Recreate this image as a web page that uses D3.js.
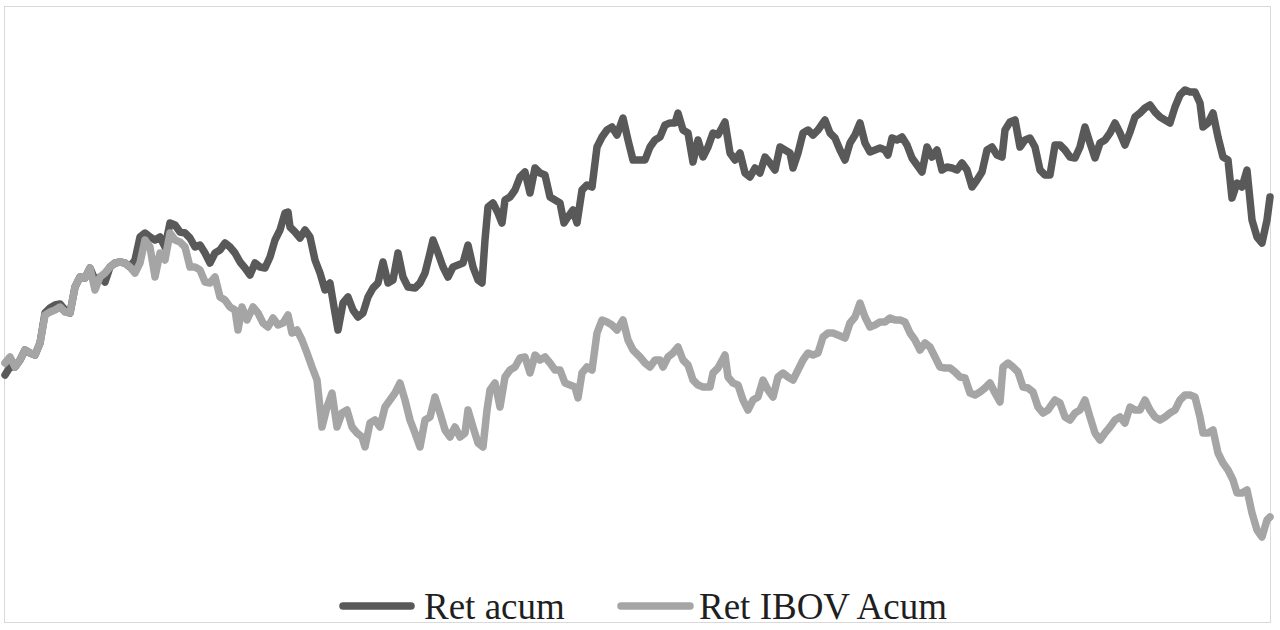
<!DOCTYPE html>
<html>
<head>
<meta charset="utf-8">
<script src="https://cdn.jsdelivr.net/npm/d3@7"></script>
<style>
  html, body { margin: 0; padding: 0; background: #ffffff; }
  svg { display: block; }
</style>
</head>
<body>
<svg id="chart" width="1280" height="630"></svg>
<script>
// Trading-day index and cumulative returns (%)
const retDays = [0,5,10,15,20,25,30,35,40,45,50,55,60,65,70,75,80,85,90,95,100,105,110,115,120,125,130,135,140,145,150,155,160,165,170,175,180,185,190,195,200,205,
210,215,220,225,230,235,240,245,250,255,260,265,270,275,280,283,285,290,295,300,305,310,315,320,325,330,333,338,343,348,353,358,363,368,373,378,383,388,393,398,403,410,415,
420,425,428,433,438,443,448,453,458,463,468,473,477,480,483,488,493,497,500,505,510,515,520,525,530,535,540,545,550,555,559,563,568,572,577,582,587,592,597,602,607,612,618,623,628,
635,640,645,650,655,660,665,670,673,678,683,688,693,698,703,708,713,720,725,730,735,740,745,750,755,760,765,770,775,780,785,788,793,798,803,808,813,820,825,830,835,
840,845,850,855,860,865,870,875,880,883,887,892,897,902,907,912,917,922,927,932,937,942,947,952,957,962,967,972,977,982,987,992,997,1000,1005,1010,1015,1020,1025,1030,1035,1040,1045,
1050,1055,1060,1065,1070,1075,1080,1085,1090,1095,1100,1105,1110,1115,1120,1125,1130,1135,1140,1145,1150,1155,1160,1165,1170,1175,1180,1185,1190,1195,1198,1203,1208,1213,1218,1223,1227,1232,1237,1242,1247,1252,1257,1262,1265];
const retAcum = [-0.3,0.5,0.5,1.2,2.2,1.9,1.7,2.9,5.9,6.4,6.7,6.8,6.2,5.9,8.5,9.5,9.4,10.4,9.2,9.5,9.0,10.5,10.9,11.0,10.9,10.5,11.2,13.5,13.9,13.5,13.2,13.5,12.5,14.9,14.7,14.0,13.9,13.4,12.5,12.7,11.9,10.9,
11.9,12.2,12.9,12.5,11.9,11.0,10.4,9.7,10.9,10.5,10.4,11.5,13.2,14.2,15.9,16.0,14.5,14.0,13.4,14.2,13.5,11.2,9.9,8.2,8.9,5.9,4.2,6.9,7.5,6.2,5.5,5.9,7.5,8.4,8.9,11.0,8.9,9.2,11.9,9.5,8.5,8.4,8.9,
9.9,11.9,13.2,11.9,10.5,9.5,10.5,10.7,10.9,12.7,10.5,9.2,8.9,13.2,16.5,16.9,15.9,14.9,17.2,17.5,18.2,19.5,20.0,17.9,20.4,19.9,19.7,17.5,17.2,16.9,14.9,15.5,16.2,14.9,18.2,18.7,18.5,22.5,23.5,24.2,24.5,23.7,25.4,23.2,21.2,
21.2,21.2,22.5,23.2,23.5,24.7,24.9,24.9,25.9,24.2,23.9,21.0,23.2,21.5,22.5,23.9,23.7,25.0,21.9,21.2,21.9,19.9,19.5,20.4,19.9,21.5,20.9,20.2,22.5,22.2,21.9,20.4,21.9,23.9,24.2,23.7,24.2,25.2,23.9,23.4,22.2,
21.2,22.9,23.7,24.9,22.9,22.0,22.2,22.4,22.2,21.7,23.4,23.2,23.5,22.7,21.4,20.7,20.0,22.5,21.5,22.2,20.2,20.5,20.4,20.2,20.9,20.2,18.5,19.2,20.0,22.2,22.5,21.7,21.5,24.2,25.0,25.2,22.5,23.2,23.4,22.5,20.2,19.7,19.7,
22.7,22.7,22.2,21.5,21.4,22.5,24.5,22.9,21.4,22.9,23.2,23.9,24.9,23.9,22.7,24.0,25.5,25.9,26.4,26.7,26.0,25.5,25.2,24.9,26.5,27.7,28.2,28.0,28.0,26.9,24.5,24.9,25.9,23.5,21.5,21.2,17.4,18.9,18.5,20.2,15.2,13.5,12.9,15.2,17.5];

const ibovDays = [0,5,10,15,20,25,30,35,40,45,50,55,60,65,70,75,80,85,90,95,100,105,110,115,120,125,130,135,140,145,150,155,160,165,170,175,180,185,190,195,200,205,
210,215,220,225,230,233,237,242,248,253,258,263,268,273,278,283,287,292,297,302,307,312,317,322,327,332,337,342,347,352,357,360,365,370,375,380,385,390,395,400,405,410,415,
420,425,430,435,440,445,450,455,460,463,468,473,478,482,485,490,495,500,505,510,515,520,525,530,535,540,545,550,555,560,565,570,573,577,582,587,592,597,602,607,612,618,623,628,
635,640,645,650,655,658,663,668,673,678,683,688,693,698,705,708,713,720,723,728,733,738,743,748,753,758,763,768,773,778,783,788,793,798,803,808,813,818,823,828,833,
840,845,850,855,860,865,870,875,880,885,890,895,900,905,910,915,920,925,930,935,940,945,950,955,960,965,970,975,980,985,990,995,998,1003,1008,1013,1018,1023,1028,1033,1038,1043,
1050,1055,1060,1065,1070,1075,1080,1085,1090,1095,1100,1105,1110,1115,1120,1125,1130,1135,1140,1145,1150,1155,1160,1165,1170,1175,1180,1185,1190,1195,1198,1203,1208,1213,1218,1223,1228,1232,1237,1242,1247,1252,1257,1262,1265];
const ibovAcum = [0.9,1.5,0.5,1.2,2.2,1.9,1.7,2.9,5.7,6.0,6.2,6.5,6.0,5.9,8.5,9.5,9.4,10.4,8.2,9.5,9.9,10.5,10.9,11.0,10.9,10.5,9.9,10.9,13.2,12.5,9.5,11.9,11.2,13.9,13.2,13.0,12.5,10.5,10.5,10.2,9.0,8.9,
9.5,7.5,7.2,6.5,6.2,4.2,6.5,5.2,6.5,5.9,4.9,4.5,5.4,4.7,4.9,5.7,3.9,4.2,3.2,1.9,0.5,-0.8,-5.5,-3.5,-2.1,-5.5,-4.1,-3.8,-5.5,-6.1,-6.5,-7.5,-5.1,-4.8,-5.5,-3.5,-2.8,-2.1,-1.1,-2.8,-4.8,-6.1,-7.5,
-4.8,-4.5,-2.5,-4.1,-5.8,-6.5,-5.5,-6.5,-6.1,-3.8,-5.5,-7.1,-7.5,-3.8,-1.8,-1.1,-3.5,-0.5,0.2,0.5,1.4,1.5,-0.1,1.7,1.2,1.5,0.9,0.2,0.2,-1.1,-1.3,-1.5,-2.6,-0.1,0.5,0.2,3.9,5.2,5.0,4.7,4.2,5.2,3.2,2.2,
1.5,0.9,0.5,1.2,1.2,0.5,1.5,1.9,2.5,1.2,0.7,-0.8,-1.3,-1.5,-1.5,-0.1,0.4,1.7,-0.5,-1.1,-1.3,-2.8,-3.8,-2.8,-2.5,-0.8,-1.8,-2.5,-0.5,-0.1,-0.5,-0.8,0.2,1.2,1.9,1.7,1.9,3.5,3.9,3.9,3.7,
3.4,4.9,5.5,6.9,5.5,4.5,4.7,5.0,5.0,5.4,5.2,5.2,5.0,3.9,3.2,2.2,2.9,2.5,1.5,0.5,0.4,0.4,0.0,-0.5,-0.6,-2.1,-2.3,-2.0,-1.6,-1.1,-2.1,-3.0,0.5,0.9,0.5,0.0,-1.5,-1.6,-2.0,-3.5,-4.1,-3.8,
-2.8,-3.1,-4.5,-4.8,-4.1,-3.8,-2.8,-4.5,-6.1,-6.8,-6.1,-5.5,-4.8,-4.5,-5.1,-3.5,-3.8,-3.8,-2.8,-3.8,-4.5,-4.8,-4.5,-4.1,-3.8,-2.8,-2.3,-2.3,-2.5,-4.5,-6.1,-6.1,-5.8,-8.1,-9.1,-9.8,-10.8,-12.1,-12.1,-11.8,-14.1,-15.8,-16.5,-14.8,-14.5];

const seriesNames = ["Ret acum", "Ret IBOV Acum"];
const seriesColors = ["#595959", "#a5a5a5"];

const svg = d3.select("#chart");

// chart border
svg.append("rect")
  .attr("x", 4.5).attr("y", 6.5)
  .attr("width", 1266).attr("height", 616)
  .attr("fill", "#ffffff")
  .attr("stroke", "#d9d9d9")
  .attr("stroke-width", 1);

const x = d3.scaleLinear().domain([0, 1265]).range([5, 1270]);
const y = d3.scaleLinear().domain([-25, 35]).range([622, 22]);

const line = d3.line()
  .x(d => x(d[0]))
  .y(d => y(d[1]));

const series = [
  d3.zip(retDays, retAcum),
  d3.zip(ibovDays, ibovAcum)
];

series.forEach((s, i) => {
  svg.append("path")
    .datum(s)
    .attr("fill", "none")
    .attr("stroke", seriesColors[i])
    .attr("stroke-width", 7.5)
    .attr("stroke-linejoin", "round")
    .attr("stroke-linecap", "round")
    .attr("d", line);
});

// legend
const legendItems = [
  { x0: 343, x1: 411, tx: 424 },
  { x0: 621, x1: 690, tx: 699 }
];
const lg = svg.append("g");
legendItems.forEach((it, i) => {
  lg.append("line")
    .attr("x1", it.x0).attr("x2", it.x1)
    .attr("y1", 606).attr("y2", 606)
    .attr("stroke", seriesColors[i])
    .attr("stroke-width", 7.5)
    .attr("stroke-linecap", "round");
  lg.append("text")
    .attr("x", it.tx).attr("y", 619)
    .attr("font-family", "'Liberation Serif', 'DejaVu Serif', serif")
    .attr("font-size", 37)
    .attr("fill", "#1f1f1f")
    .text(seriesNames[i]);
});
</script>
</body>
</html>
